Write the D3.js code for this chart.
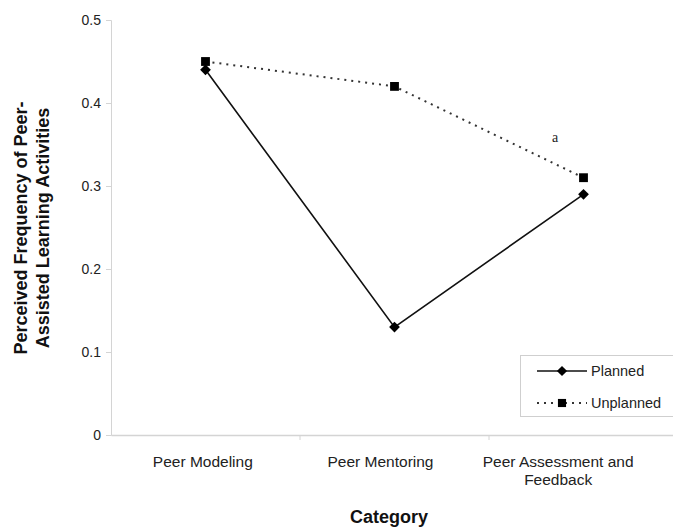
<!DOCTYPE html>
<html><head><meta charset="utf-8">
<script src="https://cdn.jsdelivr.net/npm/d3@7"></script>
<style>body{margin:0;background:#fff}svg{display:block}</style>
</head><body>
<script>
const categories = ["Peer Modeling", "Peer Mentoring", "Peer Assessment and Feedback"];
const categoryLines = [["Peer Modeling"], ["Peer Mentoring"], ["Peer Assessment and", "Feedback"]];
const planned = [0.44, 0.13, 0.29];
const unplanned = [0.45, 0.42, 0.31];
const yTicks = [0, 0.1, 0.2, 0.3, 0.4, 0.5];
const seriesNames = ["Planned", "Unplanned"];

const W = 673, H = 528;
const svg = d3.select("body").append("svg").attr("width", W).attr("height", H);
const font = "'Liberation Sans', Arial, sans-serif";

const x = d3.scaleBand().domain(categories).range([111, 678]);
const xLabel = d3.scaleBand().domain(categories).range([114, 647]);
const y = d3.scaleLinear().domain([0, 0.5]).range([435, 20]);
const axisColor = "#d4d4d4";

// Y axis
const ya = svg.append("g").attr("transform", "translate(111,0)")
  .call(d3.axisLeft(y).tickValues(yTicks).tickSize(5).tickPadding(5).tickFormat(d => d === 0 ? "0" : d3.format(".1f")(d)));
ya.select(".domain").attr("stroke", axisColor);
ya.selectAll(".tick line").attr("stroke", axisColor);
ya.selectAll(".tick text").attr("font-family", font).attr("font-size", 14).attr("fill", "#222");

// X axis
const xa = svg.append("g").attr("transform", "translate(0,435)")
  .call(d3.axisBottom(x).tickSize(0).tickFormat(""));
xa.select(".domain").attr("stroke", axisColor).attr("stroke-width", 1.5);
xa.selectAll(".tick").remove();
svg.selectAll(".sep").data(categories.slice(1)).enter().append("line")
  .attr("x1", d => x(d)).attr("x2", d => x(d)).attr("y1", 435).attr("y2", 440)
  .attr("stroke", axisColor);
// Category labels
categories.forEach((c, i) => {
  const lx = xLabel(c) + xLabel.bandwidth() / 2;
  const t = svg.append("text").attr("x", lx).attr("y", 467)
    .attr("text-anchor", "middle").attr("font-family", font).attr("font-size", 15.5).attr("fill", "#222");
  categoryLines[i].forEach((l, j) => t.append("tspan").attr("x", lx).attr("dy", j ? 18 : 0).text(l));
});

// Axis titles
svg.append("text").attr("x", 389).attr("y", 523).attr("text-anchor", "middle")
  .attr("font-family", font).attr("font-size", 18).attr("font-weight", "bold").attr("fill", "#111").text("Category");
const yt = svg.append("text").attr("transform", "translate(0,228) rotate(-90)").attr("text-anchor", "middle")
  .attr("font-family", font).attr("font-size", 18).attr("font-weight", "bold").attr("fill", "#111");
yt.append("tspan").attr("x", 0).attr("y", 27).text("Perceived Frequency of Peer-");
yt.append("tspan").attr("x", 0).attr("y", 49).text("Assisted Learning Activities");

const cx = c => x(c) + x.bandwidth() / 2;
const line = d3.line().x(d => cx(d.c)).y(d => y(d.v));
const pData = categories.map((c, i) => ({c, v: planned[i]}));
const uData = categories.map((c, i) => ({c, v: unplanned[i]}));

svg.append("path").datum(uData).attr("d", line).attr("fill", "none")
  .attr("stroke", "#333").attr("stroke-width", 2).attr("stroke-dasharray", "2,5");
svg.append("path").datum(pData).attr("d", line).attr("fill", "none")
  .attr("stroke", "#111").attr("stroke-width", 1.6);

const square = d3.symbol().type(d3.symbolSquare).size(78);
svg.selectAll(".up").data(uData).enter().append("path")
  .attr("transform", d => `translate(${cx(d.c)},${y(d.v)})`).attr("d", square).attr("fill", "#000");
svg.selectAll(".pp").data(pData).enter().append("path")
  .attr("transform", d => `translate(${cx(d.c)},${y(d.v)}) rotate(45)`).attr("d", d3.symbol().type(d3.symbolSquare).size(58)).attr("fill", "#000");

// annotation
svg.append("text").attr("x", 555).attr("y", 142).attr("text-anchor", "middle")
  .attr("font-family", "'Liberation Serif', 'DejaVu Serif', serif").attr("font-size", 14).attr("fill", "#222").text("a");

// Legend
svg.append("rect").attr("x", 520.5).attr("y", 355.5).attr("width", 170).attr("height", 61)
  .attr("fill", "#fff").attr("stroke", "#cfcfcf");
const leg = [{n: seriesNames[0], yy: 371, dash: null, sym: "d"}, {n: seriesNames[1], yy: 403, dash: "2,5", sym: "s"}];
leg.forEach(l => {
  svg.append("line").attr("x1", 537).attr("x2", 587).attr("y1", l.yy).attr("y2", l.yy)
    .attr("stroke", l.dash ? "#333" : "#111").attr("stroke-width", l.dash ? 2 : 1.6).attr("stroke-dasharray", l.dash);
  if (l.sym === "d") svg.append("path").attr("transform", `translate(562,${l.yy}) rotate(45)`).attr("d", d3.symbol().type(d3.symbolSquare).size(52)).attr("fill", "#000");
  else svg.append("path").attr("transform", `translate(562,${l.yy})`).attr("d", d3.symbol().type(d3.symbolSquare).size(66)).attr("fill", "#000");
  svg.append("text").attr("x", 591).attr("y", l.yy + 5).attr("font-family", font).attr("font-size", 14.5).attr("fill", "#222").text(l.n);
});
</script>
</body></html>
